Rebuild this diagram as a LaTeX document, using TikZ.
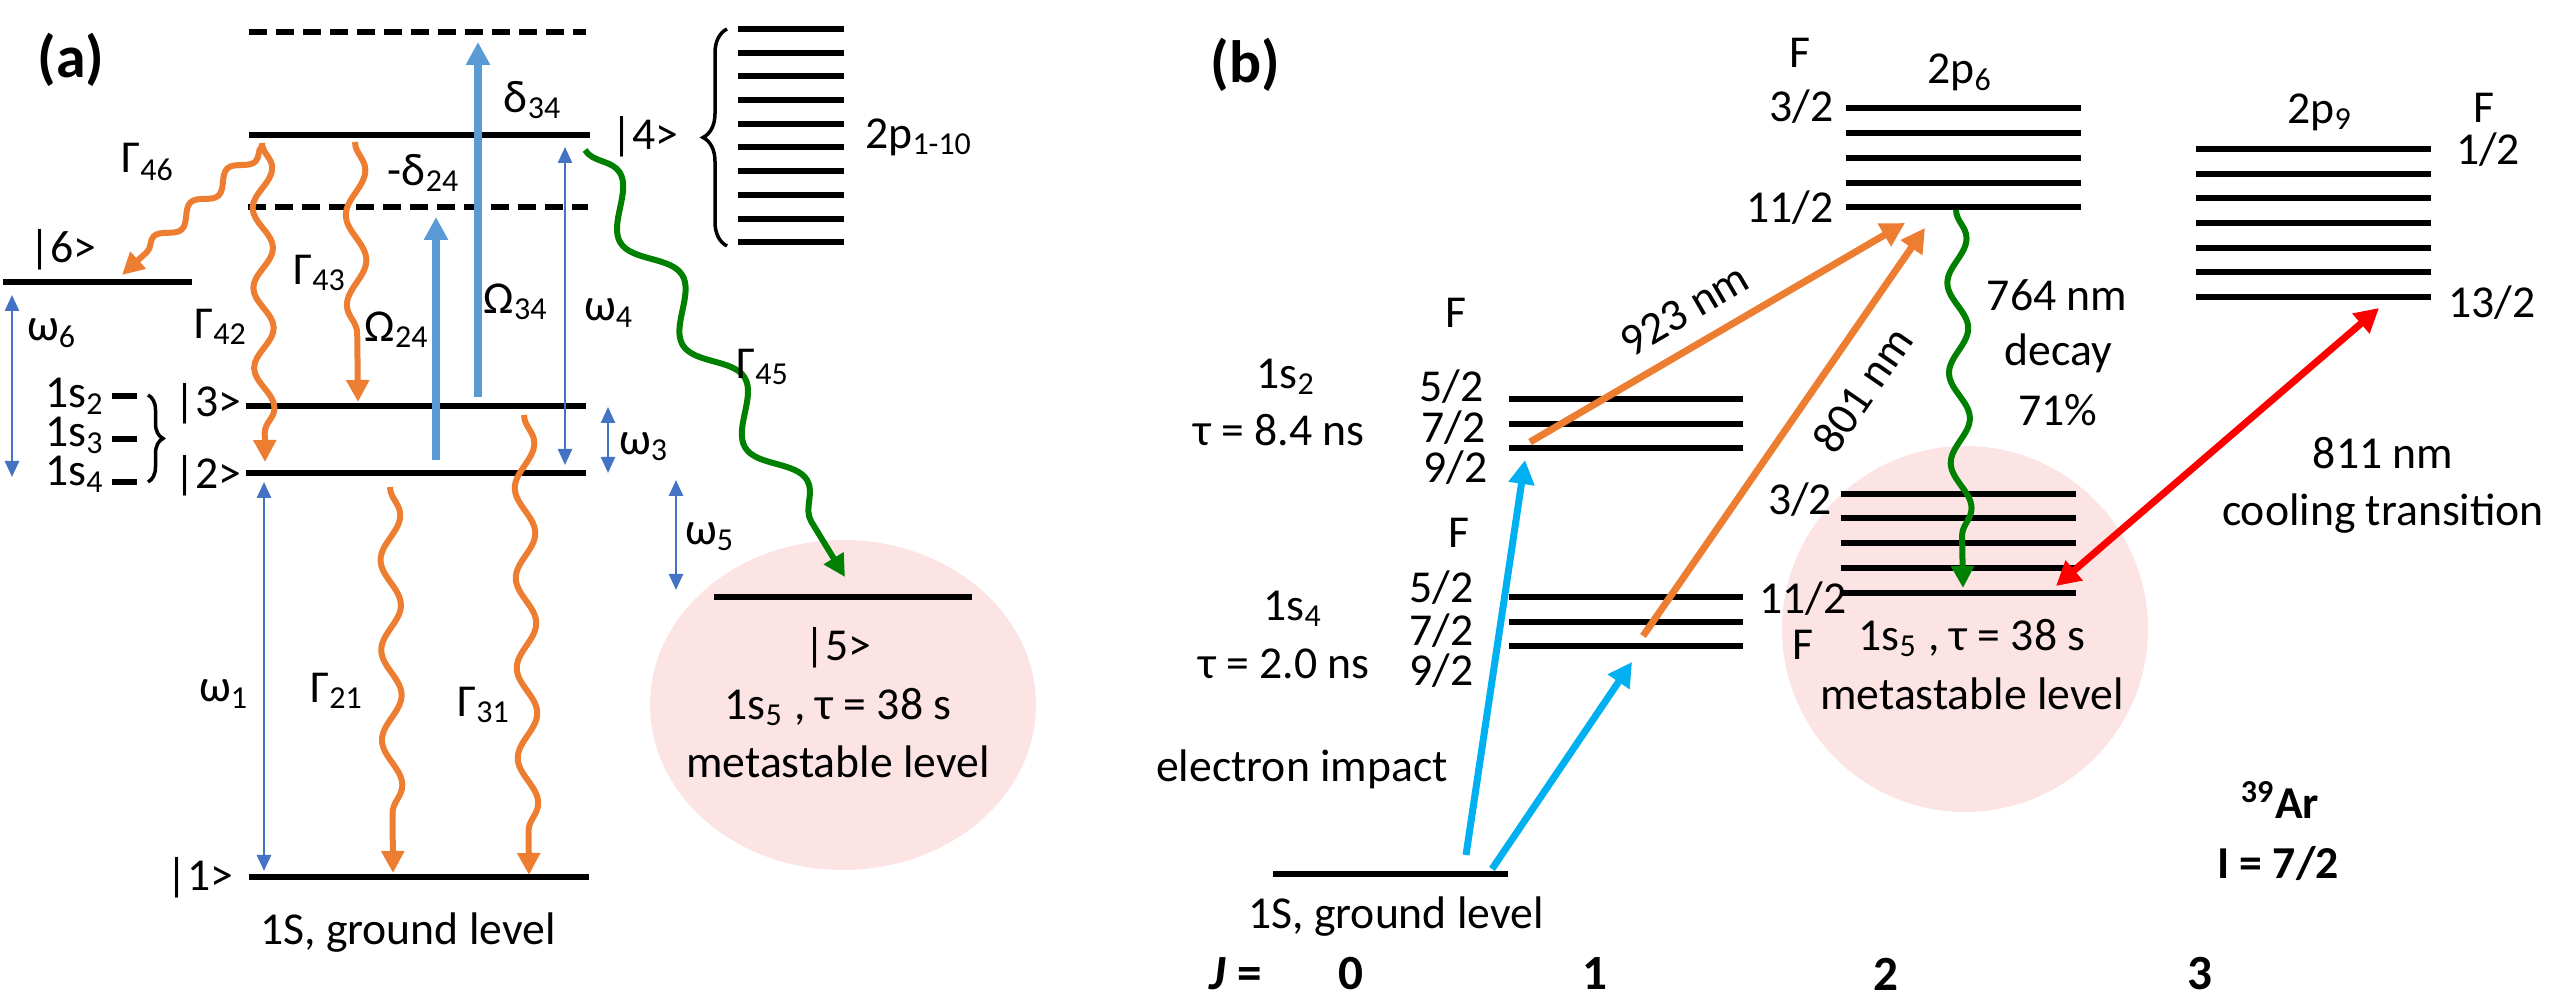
\documentclass[tikz,border=0pt]{standalone}
\usepackage{fontspec}
\setmainfont{Carlito}
\usetikzlibrary{arrows.meta,decorations.pathmorphing,decorations.pathreplacing}

\definecolor{orng}{HTML}{ED7D31}
\definecolor{wblue}{HTML}{4472C4}
\definecolor{rabi}{HTML}{5B9BD5}
\definecolor{impact}{HTML}{00B0F0}
\definecolor{grn}{HTML}{008000}
\definecolor{metapink}{HTML}{FCE4E4}

\tikzset{
  lvl/.style={line width=0.6mm},
  virt/.style={line width=0.6mm, dash pattern=on 1.8mm off 0.9mm},
  freq/.style={wblue, line width=0.25mm, {Triangle[width=1.4mm,length=1.6mm]}-{Triangle[width=1.4mm,length=1.6mm]}},
  rabiarr/.style={rabi, line width=0.8mm, -{Triangle[width=2.3mm,length=2.3mm]}},
  decay/.style={line width=0.6mm, -{Triangle[width=2.2mm,length=2.2mm]}, decorate,
    decoration={snake, amplitude=1mm, segment length=9mm, post length=2.5mm}},
  laser/.style={line width=0.7mm, -{Triangle[width=2.5mm,length=2.4mm]}},
  paneltag/.style={font=\fontsize{17}{20}\selectfont\bfseries},
  jrow/.style={font=\fontsize{14}{17}\selectfont\bfseries},
}

\begin{document}
\begin{tikzpicture}[x=0.1mm, y=-0.1mm, inner sep=0pt, font=\fontsize{13}{15}\selectfont]
\useasboundingbox (0,0) rectangle (2559,1005);

% panel (a)
\fill[metapink] (843,705) ellipse [x radius=193, y radius=165];
\node[paneltag] (tagA) at (71,60) {(a)};

\draw[virt] (249,32) -- (586,32);
\draw[lvl] (249,135) -- (590,135);
\draw[virt] (248,207) -- (588,207);
\draw[lvl] (3,282) -- (192,282);
\draw[lvl] (246,406) -- (586,406);
\draw[lvl] (246,473) -- (586,473);
\draw[lvl] (249,877) -- (589,877);
\draw[lvl] (714,597) -- (972,597);
\foreach \k in {0,...,9}
  \draw[lvl] (738,29+23.7*\k) -- (844,29+23.7*\k);
\foreach \y in {396,439,482}
  \draw[lvl] (112,\y) -- (137,\y);
\draw[line width=0.35mm, decorate, decoration={brace, amplitude=1.5mm}] (148,395) -- (148,482);
\draw[line width=0.35mm, decorate, decoration={brace, amplitude=2.4mm}] (727,246) -- (727,29);

\node (k6) at (63,250) {|6>};
\node (k4) at (645,137) {|4>};
\node[anchor=east] (k3) at (242,404) {|3>};
\node[anchor=east] (k2) at (242,476) {|2>};
\node[anchor=east] (k1) at (234,878) {|1>};
\node[anchor=base east] (s2) at (105,408) {1s\textsubscript{2}};
\node[anchor=base east] (s3) at (105,447) {1s\textsubscript{3}};
\node[anchor=base east] (s4) at (105,486) {1s\textsubscript{4}};
\node (p110) at (919,137) {2p\textsubscript{1-10}};
\node (gnd) at (408,933) {1S, ground level};
\node (k5) at (838,648) {|5>};
\node (m5) at (838,707) {1s\textsubscript{5} , τ = 38 s};
\node (mlv) at (838,762) {metastable level};

\coordinate (w6a) at (12,295);   \coordinate (w6b) at (12,477);
\coordinate (w4a) at (565,147);  \coordinate (w4b) at (565,465);
\coordinate (w3a) at (608,407);  \coordinate (w3b) at (608,473);
\coordinate (w5a) at (676,480);  \coordinate (w5b) at (676,590);
\coordinate (w1a) at (264,482);  \coordinate (w1b) at (264,871);
\coordinate (r24a) at (436,460); \coordinate (r24b) at (436,217);
\coordinate (r34a) at (478,397); \coordinate (r34b) at (478,42);
\coordinate (g46a) at (262,146); \coordinate (g46b) at (122,275);
\coordinate (g42a) at (262,143); \coordinate (g42b) at (265,462);
\coordinate (g43a) at (355,142); \coordinate (g43b) at (358,402);
\coordinate (g21a) at (390,487); \coordinate (g21b) at (393,873);
\coordinate (g31a) at (524,415); \coordinate (g31b) at (529,875);
\coordinate (g45a) at (585,150); \coordinate (g45b) at (845,577);

\draw[freq] (w6a) -- (w6b);
\draw[freq] (w4a) -- (w4b);
\draw[freq] (w3a) -- (w3b);
\draw[freq] (w5a) -- (w5b);
\draw[freq] (w1a) -- (w1b);
\draw[rabiarr] (r24a) -- (r24b);
\draw[rabiarr] (r34a) -- (r34b);
\draw[decay, orng, decoration={amplitude=0.7mm, segment length=5mm}] (g46a) -- (g46b);
\draw[decay, orng, decoration={segment length=8mm}] (g42a) -- (g42b);
\draw[decay, orng] (g43a) -- (g43b);
\draw[decay, orng] (g21a) -- (g21b);
\draw[decay, orng] (g31a) -- (g31b);
\draw[decay, grn, decoration={amplitude=1.8mm, segment length=12mm, post length=3mm}] (g45a) -- (g45b);

\node (lg46) at (148,162) {Γ\textsubscript{46}};
\node (lw6) at (52,333) {ω\textsubscript{6}};
\node (lg42) at (221,327) {Γ\textsubscript{42}};
\node (lg43) at (320,273) {Γ\textsubscript{43}};
\node (lr24) at (397,330) {Ω\textsubscript{24}};
\node (lr34) at (516,302) {Ω\textsubscript{34}};
\node (ld34) at (533,100) {δ\textsubscript{34}};
\node (ld24) at (424,173) {-δ\textsubscript{24}};
\node (lw4) at (609,313) {ω\textsubscript{4}};
\node (lw3) at (644,447) {ω\textsubscript{3}};
\node (lg45) at (763,367) {Γ\textsubscript{45}};
\node (lw5) at (710,537) {ω\textsubscript{5}};
\node (lw1) at (224,694) {ω\textsubscript{1}};
\node (lg21) at (337,691) {Γ\textsubscript{21}};
\node (lg31) at (484,705) {Γ\textsubscript{31}};

% panel (b)
\fill[metapink] (1965,629) circle [radius=183];
\node[paneltag] (tagB) at (1245,65) {(b)};

\foreach \y in {108,133,158,183,207}
  \draw[lvl] (1846,\y) -- (2081,\y);
\foreach \k in {0,...,6}
  \draw[lvl] (2196,149+24.67*\k) -- (2431,149+24.67*\k);
\foreach \y in {399,424,448}
  \draw[lvl] (1509,\y) -- (1743,\y);
\foreach \y in {597,622,646}
  \draw[lvl] (1509,\y) -- (1743,\y);
\foreach \y in {494,518,543,568,593}
  \draw[lvl] (1841,\y) -- (2076,\y);
\draw[lvl] (1273,874) -- (1508,874);

\node (f6) at (1800,53) {F};
\node[anchor=east] (f6a) at (1834,107) {3/2};
\node[anchor=east] (f6b) at (1834,208) {11/2};
\node (p6) at (1960,72) {2p\textsubscript{6}};
\node (p9) at (2320,112) {2p\textsubscript{9}};
\node (f9) at (2484,108) {F};
\node (f9a) at (2488,150) {1/2};
\node (f9b) at (2492,303) {13/2};
\node (f2) at (1456,313) {F};
\node[anchor=east] (f2a) at (1484,387) {5/2};
\node[anchor=east] (f2b) at (1486,428) {7/2};
\node[anchor=east] (f2c) at (1488,468) {9/2};
\node (s2b) at (1286,377) {1s\textsubscript{2}};
\node (t2) at (1279,430) {τ = 8.4 ns};
\node (f4) at (1459,533) {F};
\node[anchor=east] (f4a) at (1474,588) {5/2};
\node[anchor=east] (f4b) at (1474,631) {7/2};
\node[anchor=east] (f4c) at (1474,671) {9/2};
\node (s4b) at (1293,609) {1s\textsubscript{4}};
\node (t4) at (1284,664) {τ = 2.0 ns};
\node (ei) at (1302,769) {electron impact};
\node (gndb) at (1396,917) {1S, ground level};
\node (f5a) at (1800,500) {3/2};
\node (f5b) at (1803,599) {11/2};
\node (f5) at (1803,645) {F};
\node (m5b) at (1972,638) {1s\textsubscript{5} , τ = 38 s};
\node (mlvb) at (1972,694) {metastable level};
\node (n764) at (2057,295) {764 nm};
\node (ndec) at (2058,353) {decay};
\node (n71) at (2058,410) {71\%};
\node (n811) at (2383,453) {811 nm};
\node (ncool) at (2383,514) {cooling transition};
\node[font=\fontsize{13}{15}\selectfont\bfseries] (ar) at (2280,800) {\textsuperscript{39}Ar};
\node[font=\fontsize{13}{15}\selectfont\bfseries] (spin) at (2278,864) {I = 7/2};
\node[jrow] (jeq) at (1236,974) {\textit{J} =};
\node[jrow] (j0) at (1351,974) {0};
\node[jrow] (j1) at (1595,974) {1};
\node[jrow] (j2) at (1886,974) {2};
\node[jrow] (j3) at (2200,974) {3};

\coordinate (e1a) at (1466,855); \coordinate (e1b) at (1525,460);
\coordinate (e2a) at (1492,869); \coordinate (e2b) at (1632,662);
\coordinate (o1a) at (1530,442); \coordinate (o1b) at (1905,223);
\coordinate (o2a) at (1643,636); \coordinate (o2b) at (1925,228);
\coordinate (dka) at (1956,210); \coordinate (dkb) at (1963,588);
\coordinate (cla) at (2056,586); \coordinate (clb) at (2379,308);

\draw[laser, impact] (e1a) -- (e1b);
\draw[laser, impact] (e2a) -- (e2b);
\draw[laser, orng] (o1a) -- node[sloped, above=5pt, pos=0.46, text=black] (l923) {923 nm} (o1b);
\draw[laser, orng] (o2a) -- node[sloped, below=6pt, pos=0.66, text=black] (l801) {801 nm} (o2b);
\draw[decay, grn] (dka) -- (dkb);
\draw[laser, red, {Triangle[width=2.5mm,length=2.4mm]}-{Triangle[width=2.5mm,length=2.4mm]}] (cla) -- (clb);
\end{tikzpicture}
\end{document}
